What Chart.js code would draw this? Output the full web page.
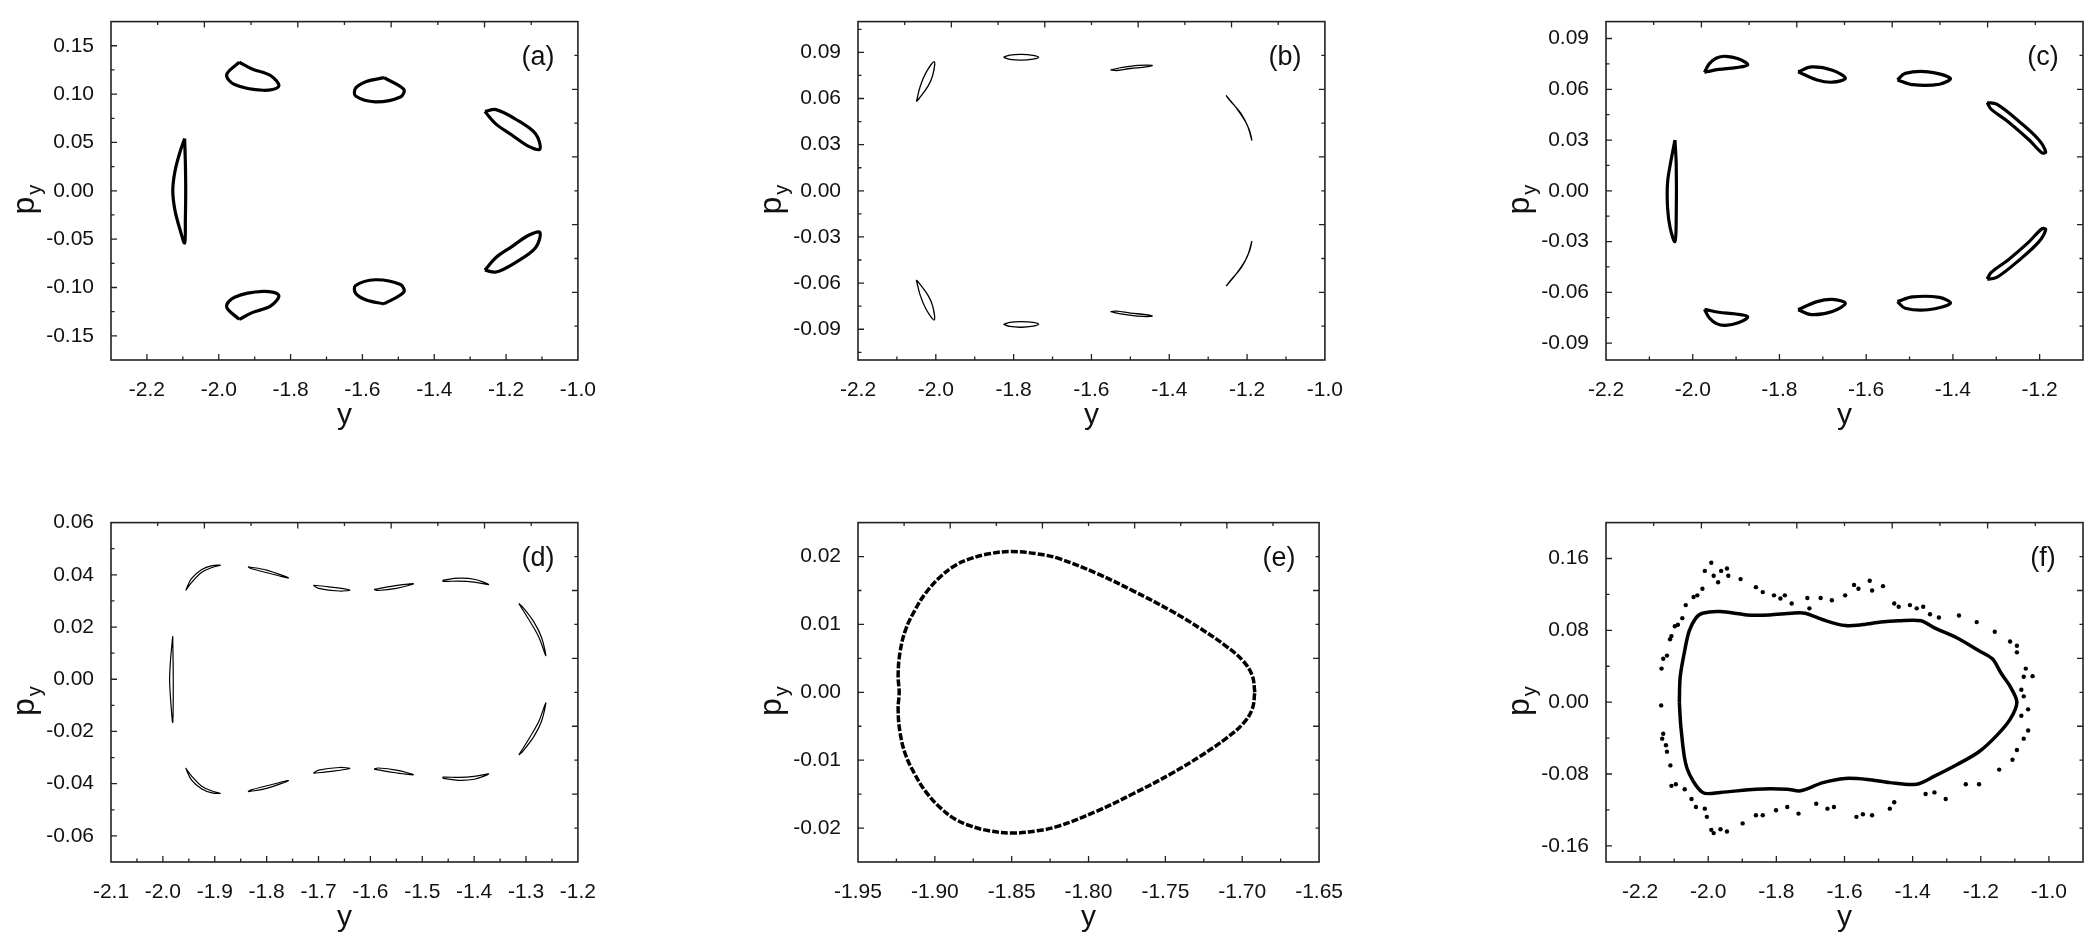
<!DOCTYPE html>
<html><head><meta charset="utf-8">
<script src="https://cdn.jsdelivr.net/npm/chart.js@4.4.1/dist/chart.umd.min.js"></script>
<style>html,body{margin:0;padding:0;background:#fff;width:2097px;height:947px;overflow:hidden}canvas{position:absolute}</style>
</head><body>
<script>
// ---------- DATA ----------
const aLeft=[[-2.095,0.054],[-2.108,0.04],[-2.122,0.02],[-2.128,0],[-2.122,-0.02],[-2.108,-0.04],[-2.095,-0.054],[-2.093,-0.03],[-2.092,0],[-2.093,0.03]];
const aUL=[[-1.943,0.133],[-1.978,0.12],[-1.956,0.11],[-1.876,0.104],[-1.833,0.108],[-1.855,0.119],[-1.907,0.126]];
const aLL=[[-1.943,-0.133],[-1.978,-0.12],[-1.956,-0.11],[-1.876,-0.104],[-1.833,-0.108],[-1.855,-0.119],[-1.907,-0.126]];
const aUM=[[-1.54,0.117],[-1.485,0.105],[-1.494,0.097],[-1.564,0.092],[-1.619,0.098],[-1.619,0.106],[-1.589,0.113]];
const aLM=[[-1.54,-0.117],[-1.485,-0.105],[-1.494,-0.097],[-1.564,-0.092],[-1.619,-0.098],[-1.619,-0.106],[-1.589,-0.113]];
const aUR=[[-1.259,0.082],[-1.228,0.084],[-1.173,0.074],[-1.118,0.059],[-1.106,0.043],[-1.137,0.046],[-1.185,0.058],[-1.228,0.069]];
const aLR=[[-1.259,-0.082],[-1.228,-0.084],[-1.173,-0.074],[-1.118,-0.059],[-1.106,-0.043],[-1.137,-0.046],[-1.185,-0.058],[-1.228,-0.069]];

const bUL=[[-2.050,0.058],[-2.040,0.068],[-2.025,0.077],[-2.004,0.084],[-2.008,0.075],[-2.020,0.068],[-2.043,0.060]];
const bLL=[[-2.050,-0.058],[-2.040,-0.068],[-2.025,-0.077],[-2.004,-0.084],[-2.008,-0.075],[-2.020,-0.068],[-2.043,-0.060]];
const bUT=[[-1.826,0.0868],[-1.81,0.0882],[-1.78,0.0887],[-1.75,0.0880],[-1.736,0.0868],[-1.75,0.0856],[-1.78,0.085],[-1.81,0.0855]];
const bLT=[[-1.826,-0.0868],[-1.81,-0.0882],[-1.78,-0.0887],[-1.75,-0.0880],[-1.736,-0.0868],[-1.75,-0.0856],[-1.78,-0.085],[-1.81,-0.0855]];
const bUM=[[-1.551,0.0786],[-1.52,0.0802],[-1.48,0.0815],[-1.444,0.0815],[-1.46,0.0805],[-1.50,0.0795],[-1.535,0.0782]];
const bLM=[[-1.551,-0.0786],[-1.52,-0.0802],[-1.48,-0.0815],[-1.444,-0.0815],[-1.46,-0.0805],[-1.50,-0.0795],[-1.535,-0.0782]];
const bUR=[[-1.254,0.062],[-1.225,0.053],[-1.200,0.043],[-1.188,0.033],[-1.195,0.040],[-1.215,0.050],[-1.245,0.059]];
const bLR=[[-1.254,-0.062],[-1.225,-0.053],[-1.200,-0.043],[-1.188,-0.033],[-1.195,-0.040],[-1.215,-0.050],[-1.245,-0.059]];

const cLeft=[[-2.041,0.030],[-2.050,0.018],[-2.058,0.005],[-2.058,-0.01],[-2.052,-0.022],[-2.041,-0.030],[-2.038,-0.015],[-2.038,0.015]];
const cUL=[[-1.973,0.070],[-1.962,0.075],[-1.945,0.0785],[-1.924,0.0795],[-1.895,0.078],[-1.873,0.0745],[-1.90,0.0728],[-1.94,0.0718],[-1.965,0.0705]];
const cLL=[[-1.973,-0.070],[-1.962,-0.075],[-1.945,-0.0785],[-1.924,-0.0795],[-1.895,-0.078],[-1.873,-0.0745],[-1.90,-0.0728],[-1.94,-0.0718],[-1.965,-0.0705]];
const cUM=[[-1.757,0.0703],[-1.726,0.0732],[-1.678,0.0713],[-1.648,0.0665],[-1.678,0.0642],[-1.713,0.0655]];
const cLM=[[-1.757,-0.0703],[-1.726,-0.0732],[-1.678,-0.0713],[-1.648,-0.0665],[-1.678,-0.0642],[-1.713,-0.0655]];
const cUN=[[-1.528,0.0655],[-1.510,0.0694],[-1.457,0.0703],[-1.406,0.0665],[-1.431,0.063],[-1.493,0.0627]];
const cLN=[[-1.528,-0.0655],[-1.510,-0.0694],[-1.457,-0.0703],[-1.406,-0.0665],[-1.431,-0.063],[-1.493,-0.0627]];
const cUR=[[-1.321,0.0522],[-1.299,0.0512],[-1.246,0.0407],[-1.202,0.0302],[-1.186,0.0229],[-1.195,0.0225],[-1.224,0.030],[-1.272,0.0407],[-1.312,0.0483]];
const cLR=[[-1.321,-0.0522],[-1.299,-0.0512],[-1.246,-0.0407],[-1.202,-0.0302],[-1.186,-0.0229],[-1.195,-0.0225],[-1.224,-0.030],[-1.272,-0.0407],[-1.312,-0.0483]];

const dLeft=[[-1.981,0.0165],[-1.985,0.008],[-1.987,0],[-1.985,-0.008],[-1.981,-0.0165],[-1.980,0]];
const dU1=[[-1.956,0.034],[-1.945,0.0385],[-1.925,0.0420],[-1.905,0.0435],[-1.889,0.0437],[-1.905,0.0428],[-1.925,0.041],[-1.945,0.037]];
const dL1=[[-1.956,-0.034],[-1.945,-0.0385],[-1.925,-0.0420],[-1.905,-0.0435],[-1.889,-0.0437],[-1.905,-0.0428],[-1.925,-0.041],[-1.945,-0.037]];
const dU2=[[-1.836,0.0431],[-1.80,0.0418],[-1.758,0.0388],[-1.795,0.0406],[-1.83,0.0424]];
const dL2=[[-1.836,-0.0431],[-1.80,-0.0418],[-1.758,-0.0388],[-1.795,-0.0406],[-1.83,-0.0424]];
const dU3=[[-1.710,0.0360],[-1.68,0.0354],[-1.64,0.0342],[-1.66,0.0338],[-1.70,0.0348]];
const dL3=[[-1.710,-0.0360],[-1.68,-0.0354],[-1.64,-0.0342],[-1.66,-0.0338],[-1.70,-0.0348]];
const dU4=[[-1.593,0.0344],[-1.56,0.0356],[-1.517,0.0366],[-1.55,0.0348],[-1.585,0.0340]];
const dL4=[[-1.593,-0.0344],[-1.56,-0.0356],[-1.517,-0.0366],[-1.55,-0.0348],[-1.585,-0.0340]];
const dU5=[[-1.460,0.0380],[-1.43,0.0387],[-1.40,0.0383],[-1.372,0.0363],[-1.40,0.0372],[-1.43,0.0376],[-1.46,0.0375]];
const dL5=[[-1.460,-0.0380],[-1.43,-0.0387],[-1.40,-0.0383],[-1.372,-0.0363],[-1.40,-0.0372],[-1.43,-0.0376],[-1.46,-0.0375]];
const dUR=[[-1.314,0.029],[-1.292,0.022],[-1.275,0.016],[-1.262,0.009],[-1.270,0.016],[-1.285,0.022],[-1.308,0.028]];
const dLR=[[-1.314,-0.029],[-1.292,-0.022],[-1.275,-0.016],[-1.262,-0.009],[-1.270,-0.016],[-1.285,-0.022],[-1.308,-0.028]];

const eLoop=[[-1.6918,0],[-1.6935,0.00248],[-1.6995,0.00463],[-1.7104,0.00678],[-1.7273,0.00941],[-1.7466,0.01204],[-1.7707,0.01491],[-1.7948,0.01753],[-1.8190,0.01968],[-1.8334,0.0204],[-1.8503,0.02074],[-1.8648,0.0204],[-1.8769,0.01968],[-1.8865,0.01873],[-1.8962,0.01706],[-1.9058,0.01467],[-1.9131,0.01204],[-1.9191,0.00917],[-1.9227,0.00583],[-1.9239,0.00248],[-1.9232,0],
 [-1.9239,-0.00248],[-1.9227,-0.00583],[-1.9191,-0.00917],[-1.9131,-0.01204],[-1.9058,-0.01467],[-1.8962,-0.01706],[-1.8865,-0.01873],[-1.8769,-0.01968],[-1.8648,-0.0204],[-1.8503,-0.02074],[-1.8334,-0.0204],[-1.8190,-0.01968],[-1.7948,-0.01753],[-1.7707,-0.01491],[-1.7466,-0.01204],[-1.7273,-0.00941],[-1.7104,-0.00678],[-1.6995,-0.00463],[-1.6935,-0.00248]];

const fLoop=[[-2.0848,0],[-2.0822,0.0283],[-2.0691,0.0573],[-2.056,0.0791],[-2.0364,0.0936],[-2.0168,0.0991],[-1.9644,0.1009],[-1.8859,0.0972],[-1.8204,0.0972],[-1.7550,0.0991],[-1.7157,0.0991],[-1.6634,0.0918],[-1.5979,0.0853],[-1.5455,0.0864],[-1.4932,0.0893],[-1.4408,0.0907],[-1.3754,0.0907],[-1.3361,0.0827],[-1.2707,0.0718],[-1.2052,0.0573],[-1.1660,0.0483],[-1.1398,0.0319],[-1.1136,0.0174],[-1.0940,0],
 [-1.1136,-0.0189],[-1.1529,-0.037],[-1.2052,-0.0552],[-1.2707,-0.0697],[-1.3361,-0.0824],[-1.3885,-0.0914],[-1.4670,-0.0896],[-1.5325,-0.086],[-1.5979,-0.0849],[-1.6634,-0.0896],[-1.7288,-0.0987],[-1.7681,-0.0969],[-1.8597,-0.0969],[-1.9644,-0.1005],[-2.0168,-0.1005],[-2.0626,-0.0733],[-2.0796,-0.0298]];
const fDots=[[-2.137,0.0374],[-2.132,0.0483],[-2.121,0.0519],[-2.112,0.0700],[-2.108,0.0736],[-2.098,0.0845],[-2.089,0.0863],[-2.076,0.0936],[-2.066,0.1081],[-2.043,0.1172],[-2.032,0.1190],[-2.017,0.1263],[-2.010,0.1462],[-1.991,0.1553],[-1.984,0.1408],[-1.971,0.1335],[-1.962,0.1462],[-1.945,0.1488],[-1.941,0.1408],[-1.905,0.1371],[-1.860,0.1281],[-1.840,0.1226],[-1.807,0.1190],[-1.788,0.1154],[-1.775,0.1190],[-1.755,0.1099],[-1.709,0.1161],[-1.703,0.1045],[-1.670,0.1161],[-1.637,0.1136],[-1.598,0.1190],[-1.572,0.1306],[-1.559,0.1263],[-1.526,0.1353],[-1.519,0.1244],[-1.487,0.1292],[-1.454,0.1099],[-1.441,0.1063],[-1.408,0.1081],[-1.388,0.1045],[-1.369,0.1063],[-1.349,0.0980],[-1.323,0.0943],[-1.264,0.0965],[-1.212,0.0892],[-1.159,0.0784],[-1.114,0.0675],[-1.094,0.0628],[-1.094,0.0555],[-1.068,0.0374],[-1.048,0.0290],[-1.074,0.0283],[-1.081,0.0138],[-1.074,0.0065],[-1.061,-0.0080],[-1.081,-0.0152],[-1.061,-0.0316],[-1.074,-0.0406],[-1.094,-0.0533],[-1.107,-0.0642],[-1.146,-0.0751],[-1.205,-0.0914],[-1.244,-0.0914],[-1.303,-0.1078],[-1.336,-0.1005],[-1.362,-0.1023],[-1.454,-0.1114],[-1.467,-0.1186],[-1.519,-0.1259],[-1.546,-0.1248],[-1.565,-0.1277],[-1.631,-0.1168],[-1.650,-0.1186],[-1.683,-0.1132],[-1.735,-0.1241],[-1.768,-0.1168],[-1.801,-0.1204],[-1.840,-0.1259],[-1.860,-0.1259],[-1.899,-0.1350],[-1.945,-0.1440],[-1.964,-0.1415],[-1.984,-0.1458],[-1.991,-0.1422],[-2.004,-0.1277],[-2.010,-0.1186],[-2.036,-0.1168],[-2.049,-0.1078],[-2.069,-0.0969],[-2.095,-0.0914],[-2.108,-0.0932],[-2.111,-0.0704],[-2.121,-0.0551],[-2.124,-0.0479],[-2.135,-0.0406],[-2.132,-0.0352],[-2.138,-0.0036]];

const xTicksA=[-2.2,-2.0,-1.8,-1.6,-1.4,-1.2,-1.0];
const yTicksA=[-0.15,-0.10,-0.05,0,0.05,0.10,0.15];
const xTicksB=[-2.2,-2.0,-1.8,-1.6,-1.4,-1.2,-1.0];
const yTicksB=[-0.09,-0.06,-0.03,0,0.03,0.06,0.09];
const xTicksC=[-2.2,-2.0,-1.8,-1.6,-1.4,-1.2];
const yTicksC=[-0.09,-0.06,-0.03,0,0.03,0.06,0.09];
const xTicksD=[-2.1,-2.0,-1.9,-1.8,-1.7,-1.6,-1.5,-1.4,-1.3,-1.2];
const yTicksD=[-0.06,-0.04,-0.02,0,0.02,0.04,0.06];
const xTicksE=[-1.95,-1.90,-1.85,-1.80,-1.75,-1.70,-1.65];
const yTicksE=[-0.02,-0.01,0,0.01,0.02];
const xTicksF=[-2.2,-2.0,-1.8,-1.6,-1.4,-1.2,-1.0];
const yTicksF=[-0.16,-0.08,0,0.08,0.16];

// ---------- RENDER ----------
const FONT='"Liberation Sans", Arial, sans-serif';
const PL=110,PT=12,PR=20,PB=85;
function closed(a){return a.map(p=>({x:p[0],y:p[1]})).concat([{x:a[0][0],y:a[0][1]}]);}
function loops(list,w){return list.map(a=>({data:closed(a),showLine:true,borderColor:'#000',borderWidth:w,pointRadius:0,fill:false,tension:0.35}));}

const framePlugin={id:'frame',afterDraw(ch,args,o){
  const c=ch.ctx,a=ch.chartArea,sx=ch.scales.x,sy=ch.scales.y;
  c.save();c.strokeStyle='#222';c.lineWidth=1.6;
  c.strokeRect(a.left,a.top,a.right-a.left,a.bottom-a.top);
  c.lineWidth=1.3;
  const xt=o.xt,yt=o.yt,xs=xt[1]-xt[0],ys=yt[1]-yt[0];
  c.beginPath();
  for(let v=xt[0]-xs;v<=xt[xt.length-1]+xs+1e-9;v+=xs/2){const p=sx.getPixelForValue(v);if(p<a.left+1||p>a.right-1)continue;
    const major=xt.some(t=>Math.abs(t-v)<1e-6);const L=major?6:3.5;c.moveTo(p,a.bottom);c.lineTo(p,a.bottom-L);}
  for(let v=yt[0]-ys;v<=yt[yt.length-1]+ys+1e-9;v+=ys/2){const p=sy.getPixelForValue(v);if(p<a.top+1||p>a.bottom-1)continue;
    const major=yt.some(t=>Math.abs(t-v)<1e-6);const L=major?6:3.5;c.moveTo(a.left,p);c.lineTo(a.left+L,p);}
  const W=a.right-a.left,H=a.bottom-a.top;
  for(let i=1;i<10;i++){const px=a.left+W*i/10,L=i%2?3.5:6;c.moveTo(px,a.top);c.lineTo(px,a.top+L);
    const py=a.top+H*i/10;c.moveTo(a.right,py);c.lineTo(a.right-L,py);}
  c.stroke();
  c.fillStyle='#111';c.textAlign='center';c.textBaseline='middle';
  c.font='27px '+FONT;c.fillText(o.label,a.right-40,a.top+36);
  c.font='30px '+FONT;c.fillText('y',(a.left+a.right)/2,a.bottom+56);
  c.translate(a.left-86,(a.top+a.bottom)/2+10);c.rotate(-Math.PI/2);
  c.font='32px '+FONT;c.textAlign='right';c.fillText('p',4,0);
  c.font='20px '+FONT;c.textAlign='left';c.fillText('y',6,10);
  c.restore();
}};
Chart.register(framePlugin);

function panel(L,T,R,B,xmin,xmax,ymin,ymax,xt,yt,label,datasets,dec){
  const cv=document.createElement('canvas');
  const w=R-L+PL+PR,h=B-T+PT+PB;
  cv.width=w;cv.height=h;cv.style.left=(L-PL)+'px';cv.style.top=(T-PT)+'px';cv.style.width=w+'px';cv.style.height=h+'px';
  document.body.appendChild(cv);
  new Chart(cv,{type:'scatter',data:{datasets},options:{
    responsive:false,animation:false,devicePixelRatio:1,
    layout:{padding:{top:PT,right:PR,left:0,bottom:0}},
    plugins:{legend:{display:false},tooltip:{enabled:false},frame:{xt,yt,label}},
    scales:{
      x:{type:'linear',min:xmin,max:xmax,grid:{display:false},border:{display:false},
        afterBuildTicks:s=>{s.ticks=xt.map(v=>({value:v}));},afterFit:s=>{s.height=PB;},
        ticks:{color:'#111',font:{family:FONT,size:21},padding:10,maxRotation:0,autoSkip:false,callback:v=>v.toFixed(dec[0])}},
      y:{type:'linear',min:ymin,max:ymax,grid:{display:false},border:{display:false},
        afterBuildTicks:s=>{s.ticks=yt.map(v=>({value:v}));},afterFit:s=>{s.width=PL;},
        ticks:{color:'#111',font:{family:FONT,size:21},padding:9,autoSkip:false,callback:v=>v.toFixed(dec[1])}}
    }}});
}
const X1=[111,586],X2=[858,1333],X3=[1606,2083];
panel(X1[0],12,X1[1],360,-2.3,-1.0,-0.175,0.175,xTicksA,yTicksA,'(a)',loops([aLeft,aUL,aLL,aUM,aLM,aUR,aLR],3.2),[1,2]);
panel(X2[0],12,X2[1],360,-2.2,-1.0,-0.11,0.11,xTicksB,yTicksB,'(b)',loops([bUL,bLL,bUT,bLT,bUM,bLM,bUR,bLR],1.3),[1,2]);
panel(X3[0],12,X3[1],360,-2.2,-1.1,-0.1,0.1,xTicksC,yTicksC,'(c)',loops([cLeft,cUL,cLL,cUM,cLM,cUN,cLN,cUR,cLR],3.2),[1,2]);
panel(X1[0],513,X1[1],862,-2.1,-1.2,-0.07,0.06,xTicksD,yTicksD,'(d)',loops([dLeft,dU1,dL1,dU2,dL2,dU3,dL3,dU4,dL4,dU5,dL5,dUR,dLR],1.2),[1,2]);
panel(X2[0],513,X2[1],862,-1.95,-1.65,-0.025,0.025,xTicksE,yTicksE,'(e)',
  [{data:closed(eLoop),showLine:true,borderColor:'#000',borderWidth:3.5,borderDash:[7,2],pointRadius:0,tension:0.4}],[2,2]);
panel(X3[0],513,X3[1],862,-2.3,-0.9,-0.178,0.2,xTicksF,yTicksF,'(f)',
  [{data:closed(fLoop),showLine:true,borderColor:'#000',borderWidth:3.5,pointRadius:0,tension:0.3},
   {data:fDots.map(p=>({x:p[0],y:p[1]})),showLine:false,pointRadius:2.2,pointBackgroundColor:'#000',pointBorderWidth:0}],[1,2]);
</script>
</body></html>
